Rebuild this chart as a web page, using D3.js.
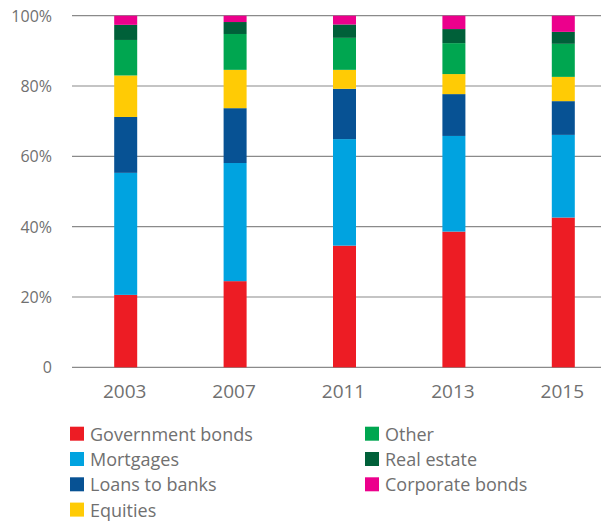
<!DOCTYPE html>
<html>
<head>
<meta charset="utf-8">
<script src="https://cdn.jsdelivr.net/npm/d3@7"></script>
<style>
  body { margin: 0; background: #ffffff; }
  text { font-family: "Open Sans", "Noto Sans", sans-serif; fill: #707070; }
</style>
</head>
<body>
<script>
var years = ["2003", "2007", "2011", "2013", "2015"];
var seriesNames = ["Government bonds", "Mortgages", "Loans to banks", "Equities", "Other", "Real estate", "Corporate bonds"];
var seriesColors = ["#ed1c24", "#00a3e0", "#075294", "#ffcb05", "#00a650", "#006039", "#ec008c"];
var governmentBonds = [20.6, 24.5, 34.6, 38.6, 42.6];
var mortgages = [34.7, 33.6, 30.3, 27.2, 23.5];
var loansToBanks = [15.9, 15.6, 14.3, 11.9, 9.6];
var equities = [11.8, 10.9, 5.4, 5.7, 6.9];
var other = [10.1, 10.2, 9.1, 8.8, 9.4];
var realEstate = [4.3, 3.4, 3.8, 4.0, 3.4];
var corporateBonds = [2.6, 1.8, 2.5, 3.8, 4.6];
var yTicks = [0, 20, 40, 60, 80, 100];

var allSeries = [governmentBonds, mortgages, loansToBanks, equities, other, realEstate, corporateBonds];
var width = 601;
var height = 523;

var rows = years.map(function (y, i) {
  var r = { year: y };
  for (var j = 0; j < seriesNames.length; j++) {
    r[seriesNames[j]] = allSeries[j][i];
  }
  return r;
});

var svg = d3.select("body")
  .append("svg")
  .attr("width", width)
  .attr("height", height);

var x = d3.scalePoint()
  .domain(years)
  .range([71, 618])
  .padding(0.5);
var y = d3.scaleLinear()
  .domain([0, 100])
  .range([367.3, 15.7]);
var barW = 23;

// gridlines
var grid = svg.append("g");
grid.selectAll("line")
  .data(yTicks)
  .enter()
  .append("line")
  .attr("x1", 72)
  .attr("x2", width)
  .attr("y1", function (d) { return y(d); })
  .attr("y2", function (d) { return y(d); })
  .attr("stroke", "#8a8a8a")
  .attr("stroke-width", 1.2);

// y labels
svg.append("g")
  .selectAll("text")
  .data(yTicks)
  .enter()
  .append("text")
  .attr("x", 52)
  .attr("y", function (d) { return y(d) + 6; })
  .attr("text-anchor", "end")
  .style("font-size", "16px")
  .text(function (d) { return d == 0 ? "0" : d + "%"; });

// bars
var stack = d3.stack().keys(seriesNames);
var layers = stack(rows);
var barg = svg.append("g");
barg.selectAll("g")
  .data(layers)
  .enter()
  .append("g")
  .attr("fill", function (d, i) { return seriesColors[i]; })
  .selectAll("rect")
  .data(function (d) { return d; })
  .enter()
  .append("rect")
  .attr("x", function (d) { return x(d.data.year) - barW / 2; })
  .attr("width", barW)
  .attr("y", function (d) { return y(d[1]); })
  .attr("height", function (d) { return y(d[0]) - y(d[1]); });

// x labels
svg.append("g")
  .selectAll("text")
  .data(years)
  .enter()
  .append("text")
  .attr("x", function (d) { return x(d) - 1; })
  .attr("y", 398)
  .attr("text-anchor", "middle")
  .style("font-size", "19px")
  .text(function (d) { return d; });

// legend
var legend = svg.append("g");
var item = legend.selectAll("g")
  .data(seriesNames)
  .enter()
  .append("g")
  .attr("transform", function (d, i) {
    var col = i < 4 ? 0 : 1;
    var row = i < 4 ? i : i - 4;
    var lx = col == 0 ? 70 : 365;
    return "translate(" + lx + " " + (426.7 + row * 25.3) + ")";
  });
item.append("rect")
  .attr("width", 14)
  .attr("height", 14)
  .attr("fill", function (d, i) { return seriesColors[i]; });
item.append("text")
  .attr("x", 20)
  .attr("y", 14)
  .style("font-size", "18px")
  .text(function (d) { return d; });
</script>
</body>
</html>
